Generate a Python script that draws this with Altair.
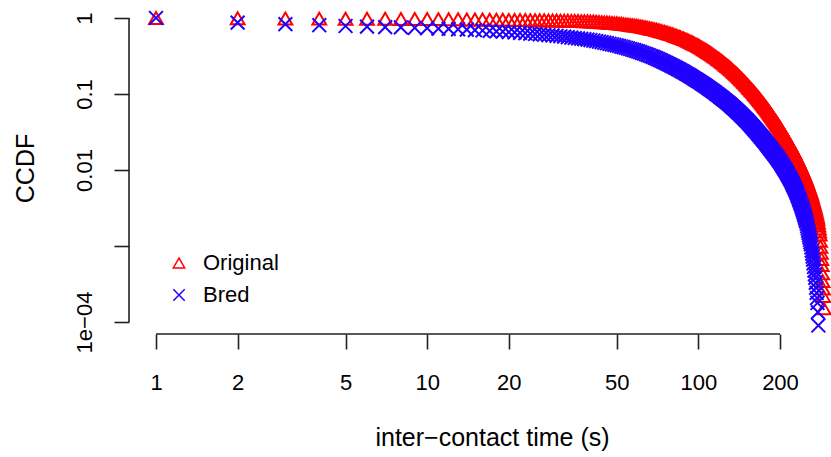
import altair as alt
import pandas as pd

# CCDF of inter-contact times (seconds), one value per whole second
original_ccdf = [
    1.0, 0.991, 0.986, 0.982, 0.979, 0.977, 0.975, 0.973, 0.970, 0.968,
    0.966, 0.963, 0.961, 0.958, 0.956, 0.954, 0.951, 0.949, 0.946, 0.944,
    0.942, 0.941, 0.939, 0.937, 0.935, 0.934, 0.932, 0.930, 0.929, 0.927,
    0.924, 0.922, 0.919, 0.917, 0.914, 0.912, 0.909, 0.907, 0.904, 0.902,
    0.897, 0.891, 0.886, 0.881, 0.876, 0.871, 0.866, 0.861, 0.856, 0.851,
    0.844, 0.838, 0.831, 0.824, 0.818, 0.811, 0.804, 0.798, 0.792, 0.785,
    0.776, 0.767, 0.759, 0.750, 0.741, 0.733, 0.724, 0.716, 0.708, 0.700,
    0.690, 0.681, 0.671, 0.662, 0.653, 0.644, 0.635, 0.627, 0.618, 0.610,
    0.600, 0.590, 0.581, 0.571, 0.562, 0.553, 0.544, 0.536, 0.527, 0.519,
    0.509, 0.500, 0.491, 0.482, 0.473, 0.465, 0.456, 0.448, 0.440, 0.432,
    0.423, 0.414, 0.406, 0.397, 0.389, 0.381, 0.373, 0.366, 0.358, 0.351,
    0.343, 0.336, 0.328, 0.321, 0.314, 0.308, 0.301, 0.294, 0.288, 0.282,
    0.275, 0.269, 0.263, 0.257, 0.251, 0.245, 0.240, 0.234, 0.229, 0.224,
    0.219, 0.213, 0.208, 0.203, 0.198, 0.194, 0.189, 0.185, 0.180, 0.176,
    0.171, 0.167, 0.163, 0.159, 0.155, 0.151, 0.147, 0.144, 0.140, 0.136,
    0.133, 0.130, 0.126, 0.123, 0.120, 0.117, 0.114, 0.111, 0.109, 0.106,
    0.103, 0.100, 0.0979, 0.0953, 0.0928, 0.0904, 0.0880, 0.0857, 0.0834, 0.0813,
    0.0791, 0.0771, 0.0750, 0.0731, 0.0712, 0.0693, 0.0675, 0.0658, 0.0640, 0.0624,
    0.0607, 0.0590, 0.0574, 0.0558, 0.0543, 0.0528, 0.0514, 0.0500, 0.0486, 0.0473,
    0.0460, 0.0448, 0.0436, 0.0424, 0.0412, 0.0401, 0.0390, 0.0379, 0.0369, 0.0359,
    0.0349, 0.0339, 0.0329, 0.0320, 0.0311, 0.0302, 0.0293, 0.0285, 0.0277, 0.0269,
    0.0261, 0.0254, 0.0246, 0.0239, 0.0232, 0.0225, 0.0218, 0.0212, 0.0206, 0.0200,
    0.0193, 0.0187, 0.0182, 0.0176, 0.0171, 0.0166, 0.0160, 0.0156, 0.0151, 0.0146,
    0.0141, 0.0137, 0.0132, 0.0128, 0.0124, 0.0120, 0.0116, 0.0112, 0.0108, 0.0105,
    0.0101, 0.00975, 0.00941, 0.00908, 0.00876, 0.00845, 0.00815, 0.00787, 0.00759, 0.00733,
    0.00704, 0.00676, 0.00649, 0.00624, 0.00599, 0.00575, 0.00553, 0.00531, 0.00510, 0.00490,
    0.00467, 0.00445, 0.00424, 0.00404, 0.00385, 0.00366, 0.00349, 0.00333, 0.00317, 0.00302,
    0.00284, 0.00268, 0.00252, 0.00238, 0.00224, 0.00204, 0.00186, 0.00170, 0.00155, 0.00141,
    0.00117, 0.000977, 0.000813, 0.000676, 0.000562, 0.000437, 0.000347, 0.000275, 0.000219, 0.000151,
]

bred_ccdf = [
    1.0, 0.871, 0.832, 0.804, 0.785, 0.771, 0.760, 0.752, 0.743, 0.735,
    0.726, 0.718, 0.710, 0.702, 0.693, 0.685, 0.676, 0.668, 0.661, 0.653,
    0.646, 0.638, 0.631, 0.624, 0.617, 0.610, 0.603, 0.596, 0.589, 0.582,
    0.575, 0.568, 0.560, 0.553, 0.546, 0.540, 0.533, 0.526, 0.519, 0.513,
    0.505, 0.497, 0.489, 0.481, 0.473, 0.466, 0.458, 0.451, 0.444, 0.437,
    0.429, 0.421, 0.413, 0.406, 0.398, 0.391, 0.384, 0.377, 0.370, 0.363,
    0.356, 0.348, 0.341, 0.334, 0.327, 0.321, 0.314, 0.308, 0.301, 0.295,
    0.288, 0.282, 0.275, 0.269, 0.263, 0.257, 0.251, 0.245, 0.240, 0.234,
    0.229, 0.224, 0.219, 0.214, 0.209, 0.204, 0.200, 0.195, 0.191, 0.186,
    0.182, 0.178, 0.174, 0.170, 0.166, 0.162, 0.158, 0.155, 0.151, 0.148,
    0.145, 0.141, 0.138, 0.135, 0.132, 0.129, 0.126, 0.123, 0.120, 0.117,
    0.115, 0.112, 0.110, 0.107, 0.105, 0.102, 0.100, 0.0977, 0.0955, 0.0933,
    0.0912, 0.0891, 0.0871, 0.0851, 0.0832, 0.0813, 0.0794, 0.0776, 0.0759, 0.0741,
    0.0724, 0.0706, 0.0689, 0.0673, 0.0657, 0.0641, 0.0626, 0.0611, 0.0596, 0.0582,
    0.0568, 0.0555, 0.0541, 0.0528, 0.0516, 0.0504, 0.0491, 0.0480, 0.0468, 0.0457,
    0.0446, 0.0435, 0.0424, 0.0413, 0.0403, 0.0393, 0.0383, 0.0373, 0.0364, 0.0355,
    0.0346, 0.0337, 0.0329, 0.0321, 0.0313, 0.0305, 0.0297, 0.0290, 0.0282, 0.0275,
    0.0269, 0.0262, 0.0255, 0.0249, 0.0243, 0.0237, 0.0231, 0.0225, 0.0219, 0.0214,
    0.0208, 0.0203, 0.0198, 0.0193, 0.0188, 0.0184, 0.0179, 0.0175, 0.0170, 0.0166,
    0.0162, 0.0158, 0.0154, 0.0150, 0.0146, 0.0143, 0.0139, 0.0136, 0.0132, 0.0129,
    0.0125, 0.0122, 0.0119, 0.0115, 0.0112, 0.0109, 0.0106, 0.0103, 0.0100, 0.00977,
    0.00948, 0.00920, 0.00893, 0.00867, 0.00841, 0.00817, 0.00793, 0.00769, 0.00746, 0.00724,
    0.00700, 0.00676, 0.00653, 0.00631, 0.00610, 0.00589, 0.00569, 0.00550, 0.00531, 0.00513,
    0.00492, 0.00472, 0.00453, 0.00435, 0.00417, 0.00400, 0.00384, 0.00368, 0.00353, 0.00339,
    0.00323, 0.00308, 0.00293, 0.00279, 0.00266, 0.00254, 0.00242, 0.00230, 0.00219, 0.00209,
    0.00195, 0.00182, 0.00170, 0.00158, 0.00148, 0.00138, 0.00129, 0.00120, 0.00112, 0.00105,
    0.000955, 0.000871, 0.000794, 0.000724, 0.000661, 0.000592, 0.000530, 0.000474, 0.000425, 0.000380,
    0.000327, 0.000281, 0.000241, 0.000207, 0.000178, 0.000135, 0.0000900,
]

series_names = ["Original", "Bred"]
series_colors = ["#ff0000", "#2000ff"]
series_shapes = ["triangle-up", "M-1,-1L1,1M-1,1L1,-1"]

x_ticks = [1, 2, 5, 10, 20, 50, 100, 200]
y_ticks = [1e-4, 1e-3, 1e-2, 1e-1, 1]

FONT = "Liberation Sans"
W, H = 702, 328

rows = []
for t, v in enumerate(original_ccdf, start=1):
    rows.append({"time": t, "ccdf": v, "series": "Original"})
for t, v in enumerate(bred_ccdf, start=1):
    rows.append({"time": t, "ccdf": v, "series": "Bred"})
df = pd.DataFrame(rows)

x_scale = alt.Scale(type="log", domain=[0.7951, 308.4], nice=False, zero=False)
y_scale = alt.Scale(type="log", domain=[6.95e-5, 1.4386], nice=False, zero=False)

points = alt.Chart(df).mark_point(filled=False, strokeWidth=2, opacity=1, size=190).encode(
    x=alt.X(
        "time:Q",
        scale=x_scale,
        axis=alt.Axis(
            values=x_ticks,
            format="d",
            title="inter\u2212contact time (s)",
            titleX=363,
            titleY=111,
            titleAnchor="start",
            titleAlign="center",
            titleBaseline="alphabetic",
            labelBaseline="alphabetic",
            labelPadding=40,
        ),
    ),
    y=alt.Y(
        "ccdf:Q",
        scale=y_scale,
        axis=alt.Axis(
            values=y_ticks,
            labelExpr="datum.value >= 0.5 ? '1' : datum.value >= 0.05 ? '0.1' : datum.value >= 0.005 ? '0.01' : datum.value >= 0.0005 ? '' : '1e\u221204'",
            labelAngle=270,
            labelAlign="center",
            labelBaseline="alphabetic",
            labelPadding=23,
            title="CCDF",
            titleAngle=270,
            titleX=-96,
            titleY=162,
            titleAlign="center",
            titleBaseline="alphabetic",
        ),
    ),
    color=alt.Color(
        "series:N",
        scale=alt.Scale(domain=series_names, range=series_colors),
        legend=alt.Legend(
            title=None,
            orient="none",
            legendX=39,
            legendY=246,
            labelFontSize=22,
            labelFont=FONT,
            labelColor="black",
            symbolSize=130,
            symbolStrokeWidth=1.5,
            labelOffset=13,
            rowPadding=10,
            padding=0,
        ),
    ),
    shape=alt.Shape("series:N", scale=alt.Scale(domain=series_names, range=series_shapes)),
)

# Axis lines that span only the first to the last tick
x_line = alt.Chart(pd.DataFrame({"a": [x_ticks[0]], "b": [x_ticks[-1]]})).mark_rule(
    color="#222222", strokeWidth=1.6
).encode(
    x=alt.X("a:Q", scale=x_scale, axis=None),
    x2="b:Q",
    y=alt.value(H),
)
y_line = alt.Chart(pd.DataFrame({"a": [y_ticks[0]], "b": [y_ticks[-1]]})).mark_rule(
    color="#222222", strokeWidth=1.6
).encode(
    y=alt.Y("a:Q", scale=y_scale, axis=None),
    y2="b:Q",
    x=alt.value(0),
)

chart = (
    alt.layer(points, x_line, y_line)
    .resolve_axis(x="independent", y="independent")
    .properties(
        width=W,
        height=H,
        autosize=alt.AutoSizeParams(type="none"),
        padding={"left": 129, "top": 6, "right": 0, "bottom": 123},
        background="white",
    )
    .configure_view(strokeWidth=0)
    .configure_axis(
        domain=False,
        grid=False,
        ticks=True,
        tickSize=15,
        tickWidth=1.6,
        tickColor="#222222",
        labelFont=FONT,
        labelFontSize=22,
        labelColor="black",
        titleFont=FONT,
        titleFontSize=25,
        titleFontWeight="normal",
        titleColor="black",
        labelOverlap=False,
        labelFlush=False,
    )
)

chart.save("out.html", embed_options={"renderer": "svg", "actions": False})
